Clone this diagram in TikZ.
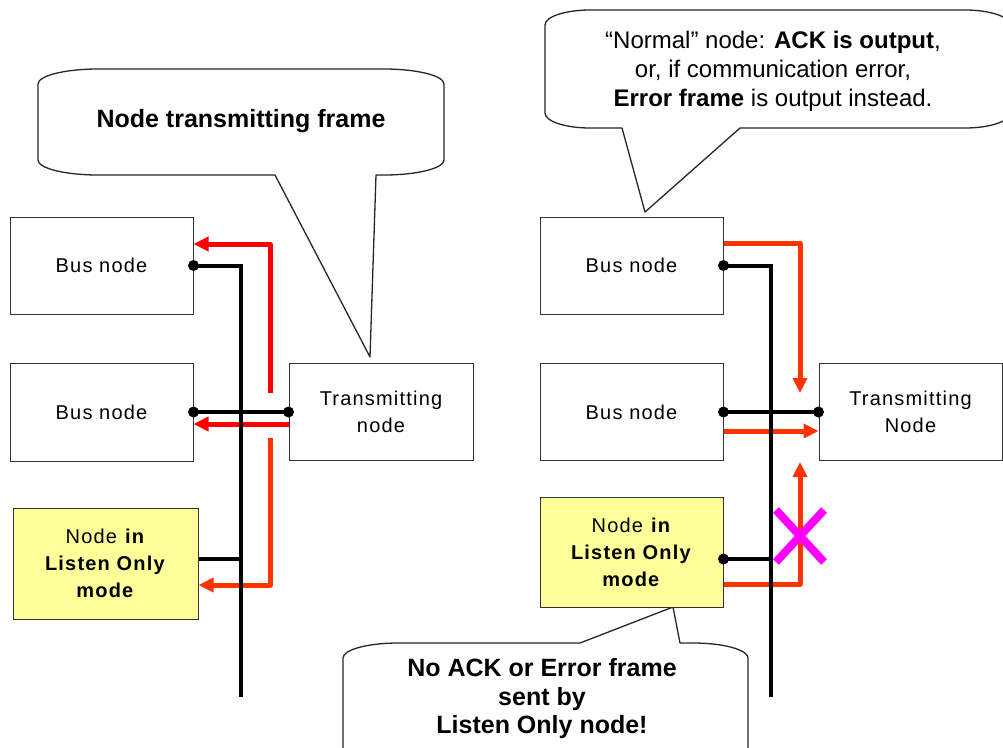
\documentclass[tikz,border=0pt]{standalone}
\usepackage{fontspec}
\setmainfont{Liberation Sans}
\newfontfamily\boxfont[LetterSpace=6]{Liberation Sans}
\usetikzlibrary{arrows.meta}

\definecolor{frameRed}{HTML}{FF0000}
\definecolor{ackRed}{HTML}{FF3300}
\definecolor{listenYellow}{HTML}{FFFF99}
\definecolor{crossPink}{HTML}{FF00FF}

\tikzset{
    busnode/.style={draw=black!80, line width=1pt, fill=white, minimum width=183pt,
        minimum height=97pt, align=center, font=\boxfont\fontsize{20}{27}\selectfont},
    listennode/.style={busnode, fill=listenYellow},
    busline/.style={line width=4pt},
    framesig/.style={line width=5pt, line join=round, frameRed, -{Triangle[length=15pt,width=14pt]}},
    acksig/.style={framesig, ackRed},
    bubble/.style={draw=black!85, line width=1.3pt, fill=white, line join=round},
    bubbletext/.style={align=center, font=\fontsize{25}{28.5}\selectfont\bfseries},
    cross/.style={line width=8pt, crossPink},
}

\begin{document}
\begin{tikzpicture}[x=1pt,y=-1pt]
        \clip (0,0) rectangle (1003,747);
        % speech bubbles
        \draw[bubble] (38,84) arc[start angle=180,end angle=270,x radius=60,y radius=15]
            -- (384,69) arc[start angle=270,end angle=360,x radius=60,y radius=15]
            -- (444,160) arc[start angle=0,end angle=90,x radius=60,y radius=15]
            -- (376,175) -- (370,357) -- (275,175)
            -- (98,175) arc[start angle=90,end angle=180,x radius=60,y radius=15] -- cycle;
        \draw[bubble] (545,25) arc[start angle=180,end angle=270,x radius=45,y radius=15]
            -- (965,10) arc[start angle=270,end angle=360,x radius=45,y radius=15]
            -- (1010,113) arc[start angle=0,end angle=90,x radius=45,y radius=15]
            -- (740,128) -- (645,212) -- (622,128)
            -- (590,128) arc[start angle=90,end angle=180,x radius=45,y radius=15] -- cycle;
        \draw[bubble] (343,658) arc[start angle=180,end angle=270,x radius=55,y radius=15]
            -- (580,643) -- (673,607) -- (680,643)
            -- (693,643) arc[start angle=270,end angle=360,x radius=55,y radius=15]
            -- (748,760) arc[start angle=0,end angle=90,x radius=55,y radius=15]
            -- (398,775) arc[start angle=90,end angle=180,x radius=55,y radius=15] -- cycle;
        \node[bubbletext] (txcall) at (241,121) {Node transmitting frame};
        \node[align=center, font=\fontsize{24}{29}\selectfont] (ackcall) at (773,71)
            {“Normal” node: \textbf{ACK is output},\\or, if communication error,\\\textbf{Error frame} is output instead.};
        \node[bubbletext] (listencall) at (542,699) {No ACK or Error frame\\sent by\\Listen Only node!};

        % left: frame on the bus
        \node[busnode] (bus1) at (101.5,265.5) {Bus node};
        \node[busnode, minimum height=98pt] (bus2) at (101.5,412) {Bus node};
        \node[listennode, minimum width=185pt, minimum height=111pt] (listen) at (105.5,563.5)
            {Node \textbf{in}\\\textbf{Listen Only}\\\textbf{mode}};
        \node[busnode, minimum width=184pt] (tx) at (381,412) {Transmitting\\node};
        \coordinate (lgap1) at (270,393);
        \coordinate (lgap2) at (270,438);
        \coordinate (lbusend) at (241,697);
        \draw[framesig] (lgap1) |- ([yshift=21.5pt]bus1.east);
        \draw[framesig] ([yshift=-12pt]tx.west) -- ([yshift=-12pt]tx.west -| bus2.east);
        \draw[acksig] (lgap2) |- ([yshift=-21.5pt]listen.east);
        \draw[busline] (bus1.east) -| (lbusend);
        \draw[busline] (bus2.east) -- (tx.west);
        \draw[busline] ([yshift=4.5pt]listen.east) -- ++(43,0);
        \foreach \p in {bus1.east, bus2.east, tx.west} {
            \fill (\p) circle (5.5);
        }

        % right: ACK / error frame back to the sender
        \node[busnode] (rbus1) at (631.5,265.5) {Bus node};
        \node[busnode] (rbus2) at (631.5,412) {Bus node};
        \node[listennode, minimum height=110pt] (rlisten) at (631.5,552)
            {Node \textbf{in}\\\textbf{Listen Only}\\\textbf{mode}};
        \node[busnode] (rtx) at (910.5,412) {Transmitting\\Node};
        \coordinate (rtip1) at (800,393);
        \coordinate (rtip2) at (800,462);
        \coordinate (rbusend) at (771,697);
        \draw[acksig] ([yshift=22pt]rbus1.east) -| (rtip1);
        \draw[acksig] ([yshift=-19pt]rbus2.east) -- ([yshift=-19pt]rbus2.east -| rtx.west);
        \draw[acksig] ([yshift=-32pt]rlisten.east) -| (rtip2);
        \draw[busline] (rbus1.east) -| (rbusend);
        \draw[busline] (rbus2.east) -- (rtx.west);
        \draw[busline] ([yshift=-7pt]rlisten.east) -- ++(48,0);
        \foreach \p in {rbus1.east, rbus2.east, rtx.west} {
            \fill (\p) circle (5.5);
        }
        \fill ([yshift=-7pt]rlisten.east) circle (5.5);
        \draw[cross] (776,510) -- (824,562) (776,562) -- (824,510);
    \end{tikzpicture}
\end{document}
